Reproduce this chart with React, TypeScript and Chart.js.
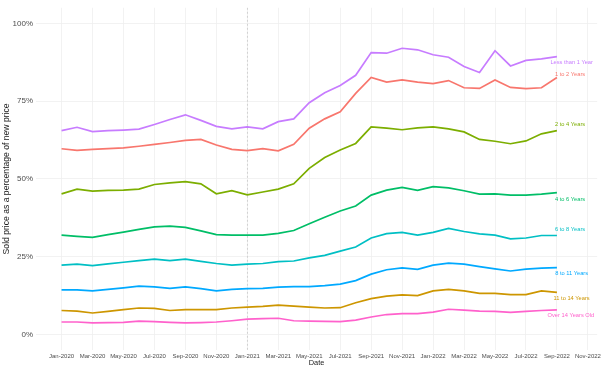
import React, { useEffect, useRef } from "react";
import { Chart, registerables } from "chart.js";

Chart.register(...registerables);

// Months Jan-2020 .. Sep-2022 (index 0..32)
const monthNames = [
  "Jan", "Feb", "Mar", "Apr", "May", "Jun", "Jul", "Aug", "Sep", "Oct", "Nov", "Dec",
];
const tickLabels = [
  "Jan-2020", "Mar-2020", "May-2020", "Jul-2020", "Sep-2020", "Nov-2020",
  "Jan-2021", "Mar-2021", "May-2021", "Jul-2021", "Sep-2021", "Nov-2021",
  "Jan-2022", "Mar-2022", "May-2022", "Jul-2022", "Sep-2022", "Nov-2022",
];
const yTicks = [0, 25, 50, 75, 100];

const seriesNames = [
  "1 to 2 Years",
  "11 to 14 Years",
  "2 to 4 Years",
  "4 to 6 Years",
  "6 to 8 Years",
  "8 to 11 Years",
  "Less than 1 Year",
  "Over 14 Years Old",
];
const seriesColors = [
  "#F8766D", "#CD9600", "#7CAE00", "#00BE67", "#00BFC4", "#00A9FF", "#C77CFF", "#FF61CC",
];

const oneToTwo = [
  59.7, 59.2, 59.5, 59.7, 60.0, 60.5, 61.1, 61.7, 62.4, 62.7, 60.9, 59.5,
  59.1, 59.7, 59.0, 61.1, 66.3, 69.3, 71.6, 77.5, 82.6, 81.1, 81.8, 81.1,
  80.6, 81.6, 79.3, 79.1, 81.8, 79.4, 79.0, 79.3, 82.6,
];
const elevenToFourteen = [
  7.7, 7.5, 6.9, 7.4, 8.0, 8.5, 8.4, 7.7, 8.0, 8.0, 8.0, 8.5,
  8.8, 9.0, 9.4, 9.1, 8.8, 8.5, 8.6, 10.2, 11.5, 12.3, 12.7, 12.5,
  14.0, 14.5, 14.0, 13.2, 13.2, 12.8, 12.8, 14.0, 13.5,
];
const twoToFour = [
  45.2, 46.7, 46.1, 46.3, 46.4, 46.7, 48.2, 48.7, 49.1, 48.4, 45.2, 46.2,
  44.9, 45.8, 46.7, 48.4, 53.4, 56.9, 59.3, 61.4, 66.7, 66.3, 65.8, 66.4,
  66.7, 66.1, 65.1, 62.7, 62.1, 61.3, 62.2, 64.5, 65.5,
];
const fourToSix = [
  31.9, 31.5, 31.2, 32.1, 32.9, 33.8, 34.6, 34.8, 34.4, 33.3, 32.1, 31.9,
  31.9, 31.9, 32.5, 33.4, 35.6, 37.7, 39.7, 41.3, 44.8, 46.4, 47.3, 46.3,
  47.5, 47.1, 46.2, 45.1, 45.2, 44.8, 44.8, 45.1, 45.6,
];
const sixToEight = [
  22.3, 22.6, 22.1, 22.7, 23.2, 23.7, 24.2, 23.7, 24.2, 23.5, 22.8, 22.3,
  22.6, 22.8, 23.4, 23.6, 24.6, 25.4, 26.8, 28.1, 31.0, 32.4, 32.8, 31.9,
  32.8, 34.1, 33.1, 32.3, 31.9, 30.7, 31.0, 31.8, 31.8,
];
const eightToEleven = [
  14.3, 14.3, 14.0, 14.5, 15.0, 15.5, 15.3, 14.8, 15.3, 14.7, 14.0, 14.5,
  14.7, 14.8, 15.2, 15.4, 15.4, 15.7, 16.2, 17.3, 19.4, 20.8, 21.4, 20.9,
  22.3, 22.9, 22.6, 21.8, 21.1, 20.4, 21.0, 21.3, 21.5,
];
const lessThanOne = [
  65.5, 66.6, 65.2, 65.5, 65.7, 66.0, 67.5, 69.1, 70.6, 68.8, 66.9, 66.1,
  66.7, 66.1, 68.4, 69.3, 74.5, 77.7, 80.0, 83.3, 90.6, 90.4, 92.0, 91.5,
  89.9, 89.1, 86.1, 84.2, 91.2, 86.3, 88.1, 88.6, 89.3,
];
const overFourteen = [
  4.0, 4.0, 3.7, 3.8, 3.9, 4.3, 4.1, 3.9, 3.7, 3.8, 4.0, 4.4,
  4.9, 5.1, 5.2, 4.4, 4.3, 4.2, 4.1, 4.6, 5.6, 6.4, 6.7, 6.7,
  7.2, 8.1, 7.8, 7.5, 7.4, 7.1, 7.4, 7.7, 7.9,
];
const seriesValues = [
  oneToTwo, elevenToFourteen, twoToFour, fourToSix, sixToEight, eightToEleven, lessThanOne, overFourteen,
];

// Direct labels (month index, percent value) for each series
const labelX = [32.85, 32.95, 32.85, 32.85, 32.85, 32.95, 32.95, 32.9];
const labelY = [83.5, 11.5, 67.6, 43.5, 33.7, 19.7, 87.3, 6.1];

const FONT = "'Liberation Sans', Arial, Helvetica, sans-serif";

const overlayPlugin = {
  id: "overlay",
  beforeDatasetsDraw(chart: any) {
    const { ctx, chartArea, scales } = chart;
    const x = scales.x.getPixelForValue(12);
    ctx.save();
    ctx.strokeStyle = "#c4c4c4";
    ctx.lineWidth = 0.7;
    ctx.setLineDash([2, 2]);
    ctx.beginPath();
    ctx.moveTo(x, chartArea.top);
    ctx.lineTo(x, chartArea.bottom);
    ctx.stroke();
    ctx.restore();
  },
  afterDatasetsDraw(chart: any) {
    const { ctx, scales, chartArea } = chart;
    ctx.save();
    ctx.font = `5.7px ${FONT}`;
    ctx.textAlign = "center";
    ctx.textBaseline = "middle";
    seriesNames.forEach((name, i) => {
      ctx.fillStyle = seriesColors[i];
      ctx.fillText(name, scales.x.getPixelForValue(labelX[i]), scales.y.getPixelForValue(labelY[i]));
    });
    // axis titles
    ctx.fillStyle = "#1a1a1a";
    ctx.font = `7.4px ${FONT}`;
    ctx.fillText("Date", (chartArea.left + chartArea.right) / 2, 363);
    ctx.translate(6.5, (chartArea.top + chartArea.bottom) / 2);
    ctx.rotate(-Math.PI / 2);
    ctx.font = `8.6px ${FONT}`;
    ctx.fillText("Sold price as a percentage of new price", 0, 0);
    ctx.restore();
  },
};

export default function App() {
  const ref = useRef<HTMLCanvasElement | null>(null);
  useEffect(() => {
    document.body.style.margin = "0";
    const canvas = ref.current;
    if (!canvas) return;
    const datasets = seriesNames.map((name, i) => ({
      label: name,
      data: seriesValues[i].map((v, j) => ({ x: j, y: v })),
      borderColor: seriesColors[i],
      backgroundColor: seriesColors[i],
      borderWidth: 1.7,
      pointRadius: 0,
      tension: 0,
      fill: false,
    }));
    const chart = new Chart(canvas, {
      type: "line",
      data: { datasets },
      plugins: [overlayPlugin],
      options: {
        animation: false,
        responsive: false,
        devicePixelRatio: 1,
        layout: { padding: { left: 0, right: 6, top: 3, bottom: 0 } },
        plugins: { legend: { display: false }, tooltip: { enabled: false } },
        scales: {
          x: {
            type: "linear",
            min: -1.65,
            max: 34.6,
            afterBuildTicks: (scale: any) => {
              scale.ticks = tickLabels.map((_, k) => ({ value: k * 2 }));
            },
            afterFit: (scale: any) => {
              scale.height = 22;
            },
            ticks: {
              autoSkip: false,
              maxRotation: 0,
              padding: 3,
              color: "#4d4d4d",
              font: { size: 6, family: FONT },
              callback: (v: any) => {
                const k = Math.round(Number(v) / 2);
                return tickLabels[k] ?? "";
              },
            },
            grid: { color: "#efefef", lineWidth: 0.8, drawTicks: false },
            border: { display: false },
          },
          y: {
            type: "linear",
            min: -5,
            max: 105,
            afterBuildTicks: (scale: any) => {
              scale.ticks = yTicks.map((v) => ({ value: v }));
            },
            afterFit: (scale: any) => {
              scale.width = 36;
            },
            ticks: {
              padding: 3,
              color: "#4d4d4d",
              font: { size: 8, family: FONT },
              callback: (v: any) => `${v}%`,
            },
            grid: { color: "#efefef", lineWidth: 0.8, drawTicks: false },
            border: { display: false },
          },
        },
      },
    });
    return () => chart.destroy();
  }, []);
  return (
    <div style={{ position: "absolute", left: 0, top: 0, width: 604, height: 372, background: "#fff" }}>
      <canvas ref={ref} width={604} height={372} style={{ width: 604, height: 372 }} />
    </div>
  );
}

void monthNames;
